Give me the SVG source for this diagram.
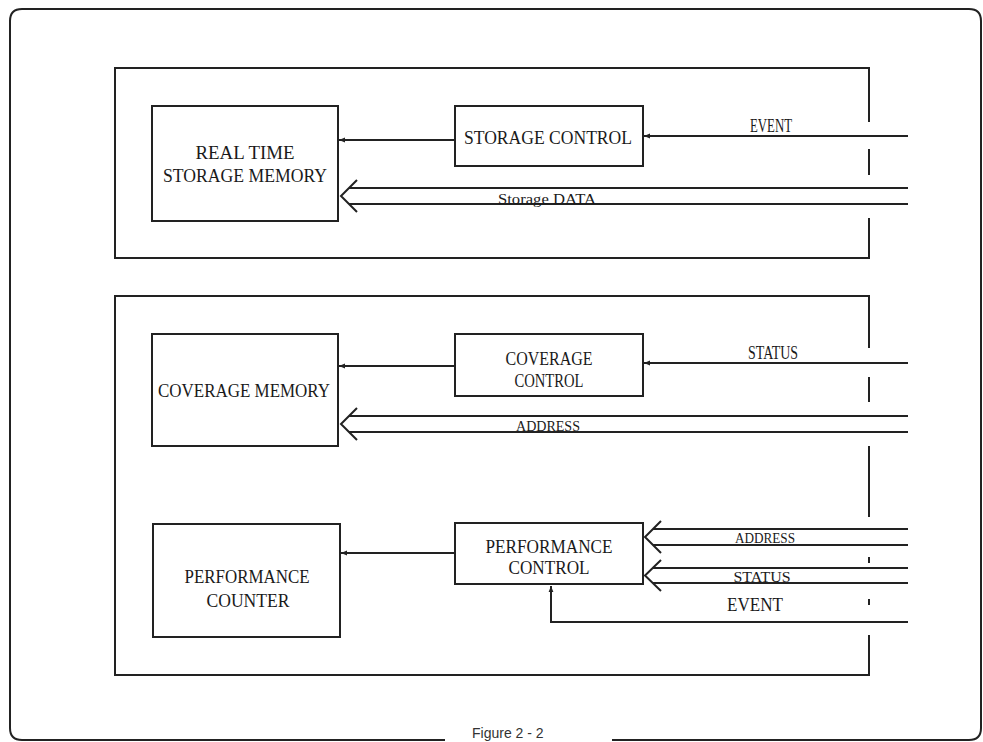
<svg xmlns="http://www.w3.org/2000/svg" width="983" height="742" viewBox="0 0 983 742">
<style>
.ln{fill:none;stroke:#222;stroke-width:2}
.box{fill:none;stroke:#222;stroke-width:2}
.t{font-family:"Liberation Serif",serif;font-size:18px;fill:#1a1a1a;text-anchor:middle}
.s{font-family:"Liberation Serif",serif;font-size:14px;fill:#1a1a1a;text-anchor:middle}
.cap{font-family:"Liberation Sans",sans-serif;font-size:14px;fill:#333}
</style>
<defs>
<marker id="ah" viewBox="0 0 10 10" refX="10" refY="5" markerWidth="6" markerHeight="6" orient="auto" markerUnits="userSpaceOnUse">
<path d="M0,1 L10,5 L0,9 z" fill="#222"/>
</marker>
</defs>
<rect width="983" height="742" fill="#fff"/>
<g id="frame">
<path class="ln" d="M445,740 H22 Q10,740 10,728 V21 Q10,9 22,9 H969 Q981,9 981,21 V728 Q981,740 969,740 H612"/>
<text class="cap" x="472" y="738">Figure  2 - 2</text>
</g>
<g id="panel-storage">
<path class="ln" d="M869,122 V68 H115 V258 H869 V218 M869,149 V175"/>
</g>
<g id="panel-coverage">
<path class="ln" d="M869,348 V296 H115 V675 H869 V635 M869,377 V402 M869,446 V517 M869,557 V563 M869,599 V605"/>
</g>
<g id="real-time-storage-memory">
<rect class="box" x="152" y="106" width="186" height="115"/>
<text class="t" x="245" y="159" textLength="99" lengthAdjust="spacingAndGlyphs">REAL TIME</text>
<text class="t" x="245" y="182" textLength="164" lengthAdjust="spacingAndGlyphs">STORAGE MEMORY</text>
</g>
<g id="storage-control">
<rect class="box" x="455" y="106" width="188" height="60"/>
<text class="t" x="548" y="144" textLength="168" lengthAdjust="spacingAndGlyphs">STORAGE CONTROL</text>
</g>
<g id="coverage-memory">
<rect class="box" x="152" y="334" width="186" height="112"/>
<text class="t" x="244" y="397" textLength="172" lengthAdjust="spacingAndGlyphs">COVERAGE MEMORY</text>
</g>
<g id="coverage-control">
<rect class="box" x="455" y="334" width="188" height="62"/>
<text class="t" x="549" y="365" textLength="87" lengthAdjust="spacingAndGlyphs">COVERAGE</text>
<text class="t" x="549" y="387" textLength="69" lengthAdjust="spacingAndGlyphs">CONTROL</text>
</g>
<g id="performance-counter">
<rect class="box" x="153" y="524" width="187" height="113"/>
<text class="t" x="247" y="583" textLength="125" lengthAdjust="spacingAndGlyphs">PERFORMANCE</text>
<text class="t" x="248" y="607" textLength="83" lengthAdjust="spacingAndGlyphs">COUNTER</text>
</g>
<g id="performance-control">
<rect class="box" x="455" y="523" width="188" height="61"/>
<text class="t" x="549" y="553" textLength="127" lengthAdjust="spacingAndGlyphs">PERFORMANCE</text>
<text class="t" x="549" y="574" textLength="81" lengthAdjust="spacingAndGlyphs">CONTROL</text>
</g>
<g id="connectors">
<line class="ln" x1="455" y1="140" x2="339" y2="140" marker-end="url(#ah)"/>
<line class="ln" x1="908" y1="136" x2="644" y2="136" marker-end="url(#ah)"/>
<text class="t" x="771" y="132" textLength="42" lengthAdjust="spacingAndGlyphs">EVENT</text>
<path class="ln" d="M908,188 H349 M908,204 H349 M357,180 L341,196 L357,212"/>
<text class="s" x="547" y="204" textLength="98" lengthAdjust="spacingAndGlyphs">Storage  DATA</text>
<line class="ln" x1="455" y1="366" x2="339" y2="366" marker-end="url(#ah)"/>
<line class="ln" x1="908" y1="363" x2="644" y2="363" marker-end="url(#ah)"/>
<text class="t" x="773" y="359" textLength="50" lengthAdjust="spacingAndGlyphs">STATUS</text>
<path class="ln" d="M908,416 H349 M908,432 H349 M357,408 L341,424 L357,440"/>
<text class="s" x="548" y="431" textLength="64" lengthAdjust="spacingAndGlyphs">ADDRESS</text>
<line class="ln" x1="455" y1="553" x2="341" y2="553" marker-end="url(#ah)"/>
<path class="ln" d="M908,529 H653 M908,545 H653 M661,521 L645,537 L661,553"/>
<text class="s" x="765" y="543" textLength="60" lengthAdjust="spacingAndGlyphs">ADDRESS</text>
<path class="ln" d="M908,568 H653 M908,583 H653 M661,560 L645,575.5 L661,591"/>
<text class="s" x="762" y="582" textLength="57" lengthAdjust="spacingAndGlyphs">STATUS</text>
<path class="ln" d="M908,622 H551 V586" marker-end="url(#ah)"/>
<text class="t" x="755" y="611" textLength="56" lengthAdjust="spacingAndGlyphs">EVENT</text>
</g>
</svg>
